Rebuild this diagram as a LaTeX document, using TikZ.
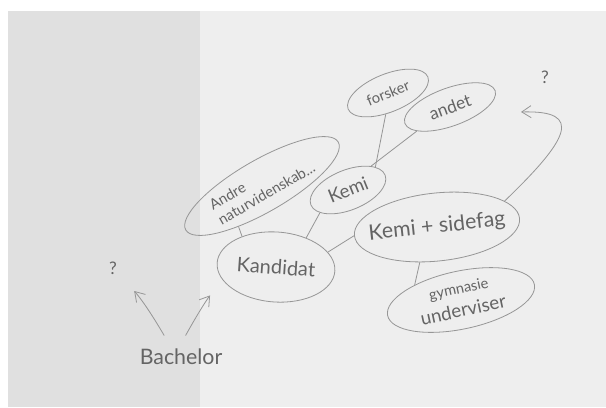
\documentclass[tikz,border=0pt]{standalone}
\usepackage{fontspec}
\setmainfont{Lato}
\usetikzlibrary{shapes.geometric,arrows.meta}
\definecolor{paper}{RGB}{238,238,238}
\definecolor{shadow}{RGB}{224,224,224}
\definecolor{pencil}{RGB}{150,150,150}
\definecolor{lead}{RGB}{100,100,100}
\newcommand{\fs}[1]{\fontsize{#1}{#1}\selectfont}

\begin{document}
\begin{tikzpicture}[x=0.75pt, y=-0.75pt,
  bubble/.style={draw=pencil, ellipse, line width=0.6pt, inner sep=0pt, text=lead},
  word/.style={text=lead, inner sep=2pt},
  link/.style={draw=pencil, line width=0.6pt},
  arr/.style={link, -{Straight Barb[length=7pt,width=9pt]}}]
  \useasboundingbox (0,0) rectangle (606,407);
  \fill[white] (0,0) rectangle (606,407);
  \fill[shadow] (8,11) rectangle (200,407);
  \fill[paper] (200,11) rectangle (606,407);

  \node[word, inner sep=10pt, font=\fs{16}] (bachelor) at (181,357) {Bachelor};
  \node[word, font=\fs{13}] (qleft) at (113,268) {?};
  \node[word, font=\fs{13}] (qright) at (545,77) {?};
  \node[bubble, minimum width=88.5pt, minimum height=52.5pt, rotate=-4, font=\fs{15}] (kandidat) at (276,267) {Kandidat};
  \node[bubble, minimum width=132pt, minimum height=39pt, rotate=30, inner xsep=-12pt, align=left, font=\fontsize{11}{13}\selectfont] (andre) at (262,186) {Andre\\naturvidenskab...};
  \node[bubble, minimum width=60pt, minimum height=30pt, rotate=22, font=\fs{14}] (kemi) at (348,190) {Kemi};
  \node[bubble, minimum width=64.5pt, minimum height=28.5pt, rotate=22, font=\fs{11}] (forsker) at (388,93) {forsker};
  \node[bubble, minimum width=72pt, minimum height=28.5pt, rotate=20, font=\fs{13}] (andet) at (450,107) {andet};
  \node[bubble, minimum width=124.5pt, minimum height=51pt, rotate=6, inner xsep=-14pt, font=\fs{16}] (sidefag) at (437,227) {Kemi + sidefag};
  \node[bubble, minimum width=112.5pt, minimum height=43.5pt, rotate=12, align=center] (gymnasie) at (461,300) {{\fs{11}gymnasie}\\[4pt]{\fs{14}underviser}};
  \coordinate (tip) at (521,112);

  \draw[arr, shorten >=16pt] (bachelor.128) to[bend right=6] (qleft);
  \draw[arr, shorten >=15pt] (bachelor.78) to[bend left=4] (kandidat.197);
  \draw[link] (andre.210) -- (kandidat.142);
  \draw[link] (kandidat.48) -- (kemi.197);
  \draw[link] (kandidat.20) -- (sidefag.180);
  \draw[link] (sidefag.238) -- (gymnasie.150);
  \draw[link] (forsker.242) -- (kemi.18);
  \draw[link] (andet.196) -- (kemi.24);
  \draw[arr] (sidefag.15) .. controls (568,140) and (585,110) .. (tip);
\end{tikzpicture}
\end{document}
